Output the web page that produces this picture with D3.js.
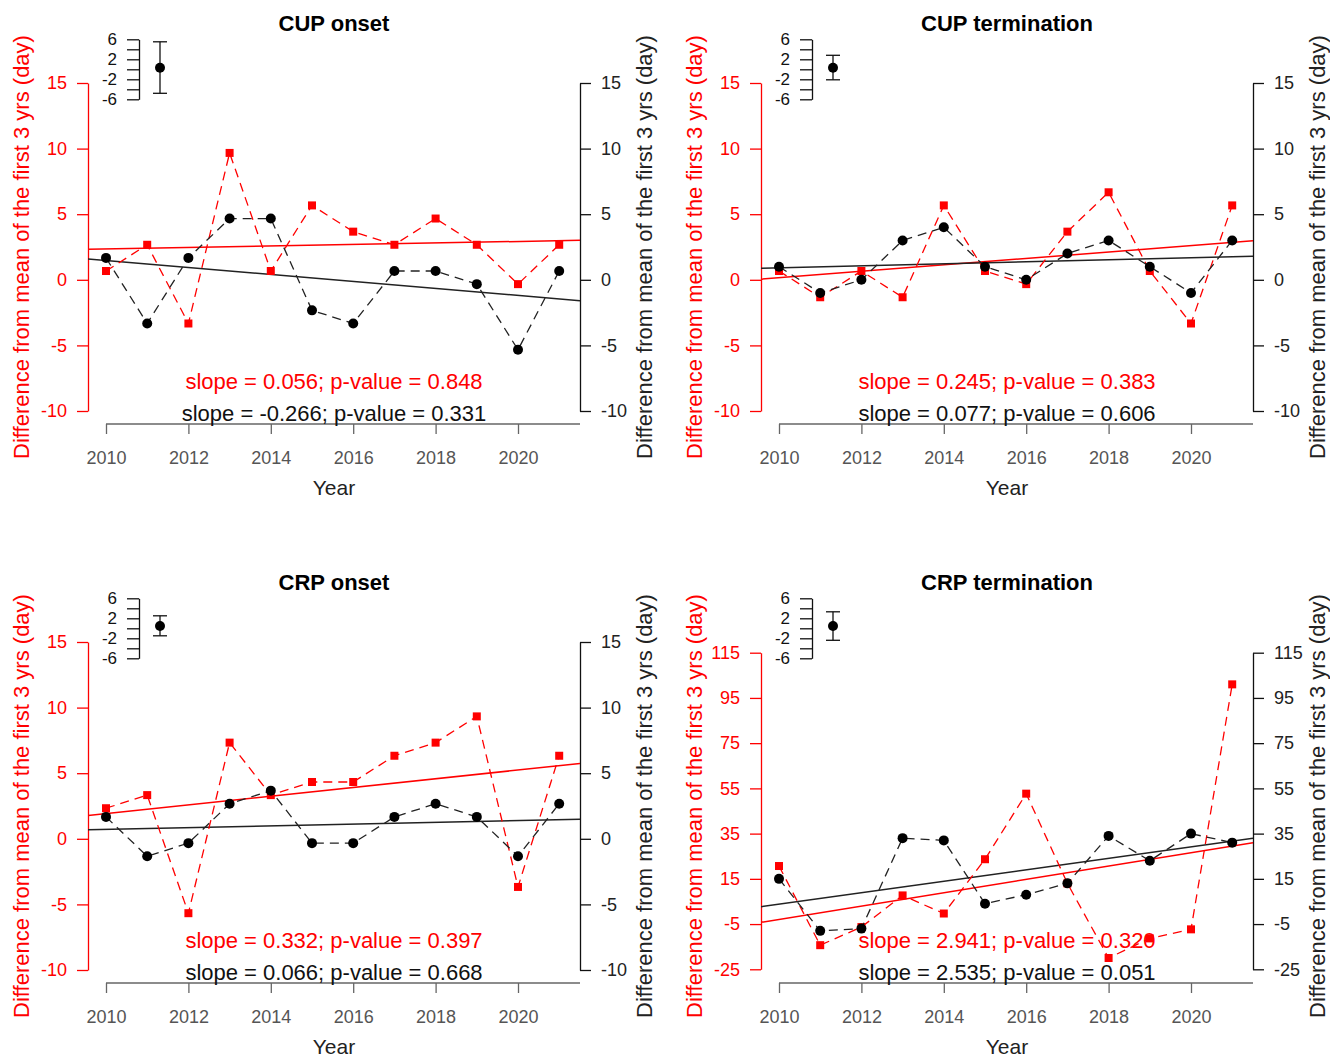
<!DOCTYPE html>
<html>
<head>
<meta charset="utf-8">
<script src="https://cdn.jsdelivr.net/npm/d3@7"></script>
<style>
  body { margin: 0; background: #fff; }
  svg { display: block; font-family: "Liberation Sans", Arial, sans-serif; }
</style>
</head>
<body>
<div id="chart"></div>
<script>
// data (difference from mean of first 3 years, days)
const years = [2010, 2011, 2012, 2013, 2014, 2015, 2016, 2017, 2018, 2019, 2020, 2021];
const xTicks = [2010, 2012, 2014, 2016, 2018, 2020];

const titles = ["CUP onset", "CUP termination", "CRP onset", "CRP termination"];

const cupOnsetRed   = [0.67, 2.67, -3.33, 9.67, 0.67, 5.67, 3.67, 2.67, 4.67, 2.67, -0.33, 2.67];
const cupOnsetBlack = [1.67, -3.33, 1.67, 4.67, 4.67, -2.33, -3.33, 0.67, 0.67, -0.33, -5.33, 0.67];
const cupTermRed    = [0.67, -1.33, 0.67, -1.33, 5.67, 0.67, -0.33, 3.67, 6.67, 0.67, -3.33, 5.67];
const cupTermBlack  = [1, -1, 0, 3, 4, 1, 0, 2, 3, 1, -1, 3];
const crpOnsetRed   = [2.33, 3.33, -5.67, 7.33, 3.33, 4.33, 4.33, 6.33, 7.33, 9.33, -3.67, 6.33];
const crpOnsetBlack = [1.67, -1.33, -0.33, 2.67, 3.67, -0.33, -0.33, 1.67, 2.67, 1.67, -1.33, 2.67];
const crpTermRed    = [20.67, -14.33, -6.33, 7.67, -0.33, 23.67, 52.67, 13, -20, -11.33, -7.33, 101];
const crpTermBlack  = [15, -8, -7, 33, 32, 4, 8, 13, 34, 23, 35, 31];

const redStats   = ["slope = 0.056; p-value = 0.848", "slope = 0.245; p-value = 0.383",
                    "slope = 0.332; p-value = 0.397", "slope = 2.941; p-value = 0.320"];
const blackStats = ["slope = -0.266; p-value = 0.331", "slope = 0.077; p-value = 0.606",
                    "slope = 0.066; p-value = 0.668", "slope = 2.535; p-value = 0.051"];

const yTicksSmall = [-10, -5, 0, 5, 10, 15];
const yTicksLarge = [-25, -5, 15, 35, 55, 75, 95, 115];

// inset error bar: [mean, lower, upper]
const insetTicks = [-6, -4, -2, 0, 2, 4, 6];
const insetLabels = [6, 2, -2, -6];
const errBars = [[0.3, -4.8, 5.5], [0.3, -2.1, 2.8], [0.46, -1.5, 2.5], [0.46, -2.4, 3.3]];

const panels = [
  { red: cupOnsetRed, black: cupOnsetBlack, ticks: yTicksSmall },
  { red: cupTermRed,  black: cupTermBlack,  ticks: yTicksSmall },
  { red: crpOnsetRed, black: crpOnsetBlack, ticks: yTicksSmall },
  { red: crpTermRed,  black: crpTermBlack,  ticks: yTicksLarge }
];
const origins = [[0, 0], [673, 0], [0, 559], [673, 559]];

const W = 1330, H = 1057;
const plotL = 88, plotR = 580;
const RED = "#ff0000";
const hy = d => String(d); // plain hyphen minus, like R

const svg = d3.select("#chart").append("svg")
  .attr("width", W).attr("height", H);

svg.append("defs").append("clipPath").attr("id", "plotclip")
  .append("rect").attr("x", plotL).attr("y", 60).attr("width", plotR - plotL).attr("height", 380);

function fit(xs, ys) {
  const mx = d3.mean(xs), my = d3.mean(ys);
  const sxy = d3.sum(xs, (x, i) => (x - mx) * (ys[i] - my));
  const sxx = d3.sum(xs, x => (x - mx) ** 2);
  const b = sxy / sxx;
  return { b, a: my - b * mx };
}

panels.forEach((p, k) => {
  const g = svg.append("g").attr("transform", `translate(${origins[k][0]},${origins[k][1]})`);

  const x = d3.scaleLinear().domain([2010, 2020]).range([106, 518]);
  const y = k === 3
    ? d3.scaleLinear().domain([-25, 115]).range([410.3, 93.7])
    : d3.scaleLinear().domain([-10, 15]).range([411, 83]);

  // title
  g.append("text").attr("x", 334).attr("y", 31).attr("text-anchor", "middle")
    .attr("font-size", 22).attr("font-weight", "bold").text(titles[k]);

  // x axis
  const xa = g.append("g").attr("transform", "translate(0,424)")
    .call(d3.axisBottom(x).tickValues(xTicks).tickFormat(d3.format("d")).tickSize(10).tickPadding(17).tickSizeOuter(0));
  xa.select(".domain").attr("d", `M${x(2010)},0H${plotR}`).attr("stroke", "#666").attr("stroke-width", 1.3);
  xa.selectAll(".tick line").attr("stroke", "#666").attr("stroke-width", 1.3);
  xa.selectAll("text").attr("font-size", 18).attr("fill", "#555").attr("font-family", null);
  g.append("text").attr("x", 334).attr("y", 495).attr("text-anchor", "middle")
    .attr("font-size", 21).attr("fill", "#222").text("Year");

  // left (red) axis
  const la = g.append("g").attr("transform", `translate(${plotL},0)`)
    .call(d3.axisLeft(y).tickValues(p.ticks).tickFormat(hy).tickSize(11).tickPadding(10).tickSizeOuter(0));
  la.select(".domain").attr("stroke", RED).attr("stroke-width", 1.3);
  la.selectAll(".tick line").attr("stroke", RED).attr("stroke-width", 1.3);
  la.selectAll("text").attr("font-size", 18).attr("fill", RED).attr("font-family", null);

  // right (black) axis
  const ra = g.append("g").attr("transform", `translate(${plotR},0)`)
    .call(d3.axisRight(y).tickValues(p.ticks).tickFormat(hy).tickSize(11).tickPadding(10).tickSizeOuter(0));
  ra.select(".domain").attr("stroke", "#111").attr("stroke-width", 1.3);
  ra.selectAll(".tick line").attr("stroke", "#111").attr("stroke-width", 1.3);
  ra.selectAll("text").attr("font-size", 18).attr("fill", "#222").attr("font-family", null);

  const label = "Difference from mean of the first 3 yrs (day)";
  g.append("text").attr("transform", `translate(29,247) rotate(-90)`)
    .attr("text-anchor", "middle").attr("font-size", 22).attr("fill", RED).text(label);
  g.append("text").attr("transform", `translate(652,247) rotate(-90)`)
    .attr("text-anchor", "middle").attr("font-size", 22).attr("fill", "#222").text(label);

  // regression lines
  const clip = g.append("g").attr("clip-path", "url(#plotclip)");
  [[p.red, RED], [p.black, "#222"]].forEach(([vals, col]) => {
    const f = fit(years, vals);
    const x0 = x.invert(plotL), x1 = x.invert(plotR);
    clip.append("line")
      .attr("x1", plotL).attr("y1", y(f.a + f.b * x0))
      .attr("x2", plotR).attr("y2", y(f.a + f.b * x1))
      .attr("stroke", col).attr("stroke-width", 1.5);
  });

  const line = d3.line().x((d, i) => x(years[i])).y(d => y(d));

  // red series (squares)
  g.append("path").datum(p.red).attr("d", line).attr("fill", "none")
    .attr("stroke", RED).attr("stroke-width", 1.3).attr("stroke-dasharray", "9,6");
  g.selectAll(".sq").data(p.red).join("rect").attr("class", "sq")
    .attr("x", (d, i) => x(years[i]) - 4).attr("y", d => y(d) - 4)
    .attr("width", 8).attr("height", 8).attr("fill", RED);

  // black series (circles)
  g.append("path").datum(p.black).attr("d", line).attr("fill", "none")
    .attr("stroke", "#222").attr("stroke-width", 1.3).attr("stroke-dasharray", "9,6");
  g.selectAll(".pt").data(p.black).join("circle").attr("class", "pt")
    .attr("cx", (d, i) => x(years[i])).attr("cy", d => y(d)).attr("r", 5).attr("fill", "#000");

  // stats text
  g.append("text").attr("x", 334).attr("y", 389).attr("text-anchor", "middle")
    .attr("font-size", 22).attr("fill", RED).text(redStats[k]);
  g.append("text").attr("x", 334).attr("y", 421).attr("text-anchor", "middle")
    .attr("font-size", 22).attr("fill", "#111").text(blackStats[k]);

  // inset scale + error bar
  const iy = d3.scaleLinear().domain([-6, 6]).range([99.3, 39.3]);
  const ia = g.append("g").attr("transform", "translate(139,0)")
    .call(d3.axisLeft(iy).tickValues(insetTicks).tickSize(12).tickPadding(10).tickSizeOuter(0)
      .tickFormat(d => insetLabels.includes(d) ? hy(d) : ""));
  ia.select(".domain").attr("stroke", "#111").attr("stroke-width", 1.3);
  ia.selectAll(".tick line").attr("stroke", "#111").attr("stroke-width", 1.3);
  ia.selectAll("text").attr("font-size", 17).attr("fill", "#111").attr("font-family", null);

  const [m, lo, hi] = errBars[k];
  const ex = 160;
  const eb = g.append("g").attr("stroke", "#111").attr("stroke-width", 1.3);
  eb.append("line").attr("x1", ex).attr("x2", ex).attr("y1", iy(lo)).attr("y2", iy(hi));
  eb.append("line").attr("x1", ex - 7).attr("x2", ex + 7).attr("y1", iy(lo)).attr("y2", iy(lo));
  eb.append("line").attr("x1", ex - 7).attr("x2", ex + 7).attr("y1", iy(hi)).attr("y2", iy(hi));
  g.append("circle").attr("cx", ex).attr("cy", iy(m)).attr("r", 5).attr("fill", "#000");
});
</script>
</body>
</html>
